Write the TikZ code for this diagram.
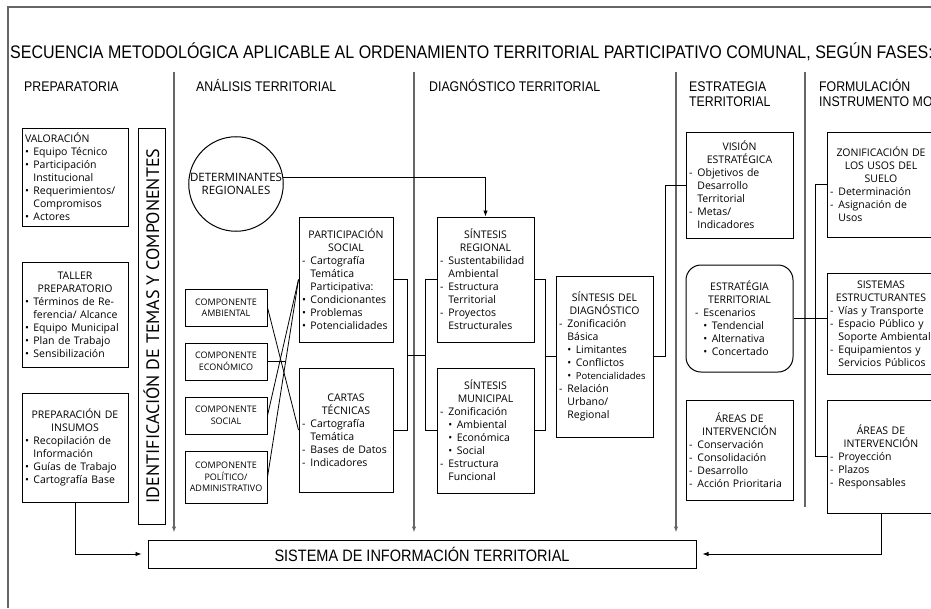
\documentclass[tikz,border=0pt]{standalone}
\usepackage{fontspec}
\setmainfont{Open Sans}
\newfontfamily\condfont[FakeStretch=0.88]{Liberation Sans}
\newfontfamily\identfont{PT Sans}
\usetikzlibrary{arrows.meta}
\setlength\parindent{0pt}

\newcommand\itembul{\makebox[0.8em][l]{\textbullet}}
\newcommand\itemdash{\makebox[0.8em][l]{-}}
\newcommand\itemind{\hspace*{0.8em}}
\newcommand\boxhead[1]{{\centering #1\par}}

\tikzset{
  frame/.style={draw=black!60, line width=1.2pt},
  divline/.style={draw=black!60, line width=1.3pt},
  link/.style={draw=black, line width=0.8pt},
  arr/.style={-{Latex[length=6pt,width=4.5pt]}},
  bx/.style={draw, line width=1pt, inner xsep=3pt, inner ysep=0pt, align=left,
    font=\fontsize{10.5}{13}\selectfont},
  compbox/.style={draw, line width=1pt, inner sep=1pt, align=center,
    minimum width=82pt, font=\fontsize{9}{11.5}\selectfont},
  phase/.style={anchor=base west, inner sep=0pt, align=left,
    font=\condfont\fontsize{14}{15.5}\selectfont},
}

\begin{document}
\begin{tikzpicture}[x=1pt,y=-1pt]
            \useasboundingbox (0,0) rectangle (931,608);%
            \clip (0,0) rectangle (931,608);%

            % Drawing outer frame
            \draw [frame] (8,608) -- (8,7) -- (945,7);%

            % Title and phase headings
            \node [anchor=base west, inner sep=0pt, font=\condfont\fontsize{18.2}{20}\selectfont] (ttl) at (10,58) {SECUENCIA METODOLÓGICA APLICABLE AL ORDENAMIENTO TERRITORIAL PARTICIPATIVO COMUNAL, SEGÚN FASES:};%
            \node [phase] (hprep) at (24,91) {PREPARATORIA};%
            \node [phase] (hanal) at (196,91) {ANÁLISIS TERRITORIAL};%
            \node [phase] (hdiag) at (429,91) {DIAGNÓSTICO TERRITORIAL};%
            \node [phase] (hestr) at (689,106.5) {ESTRATEGIA\\TERRITORIAL};%
            \node [phase] (hform) at (819,106.5) {FORMULACIÓN\\INSTRUMENTO MOT};%

            % Drawing box SISTEMA DE INFORMACION
            \node [draw, line width=1pt, minimum width=548pt, minimum height=28pt, font=\condfont\fontsize{16.5}{18}\selectfont] (sit) at (422,554) {SISTEMA DE INFORMACIÓN TERRITORIAL};%

            % Drawing phase dividers
            \coordinate (dvA) at (174,72);%
            \coordinate (dvB) at (414,72);%
            \coordinate (dvC) at (676,72);%
            \coordinate (dvD) at (805,72);%
            \coordinate (dvDend) at (805,507);%
            \draw [divline, arr, shorten >=7pt] (dvA) -- (dvA |- sit.north);%
            \draw [divline, arr, shorten >=7pt] (dvB) -- (dvB |- sit.north);%
            \draw [divline, arr, shorten >=7pt] (dvC) -- (dvC |- sit.north);%
            \draw [divline] (dvD) -- (dvDend);%

            % Drawing boxes PREPARATORIA
            \node [bx, text width=100pt, minimum height=98pt] (valor) at (75,177) {VALORACIÓN\\
              \itembul Equipo Técnico\\
              \itembul Participación\\
              \itemind Institucional\\
              \itembul Requerimientos/\\
              \itemind Compromisos\\
              \itembul Actores};%
            \node [bx, text width=100pt, minimum height=105pt] (taller) at (75,314.5) {\boxhead{TALLER\\PREPARATORIO}
              \itembul Términos de Re-\\
              \itemind ferencia/ Alcance\\
              \itembul Equipo Municipal\\
              \itembul Plan de Trabajo\\
              \itembul Sensibilización};%
            \node [bx, text width=100pt, minimum height=109pt] (insumos) at (75,447.5) {\boxhead{PREPARACIÓN DE\\INSUMOS}
              \itembul Recopilación de\\
              \itemind Información\\
              \itembul Guías de Trabajo\\
              \itembul Cartografía Base};%
            \node [draw, line width=1pt, rotate=90, minimum width=396pt, minimum height=27pt, inner sep=0pt, font=\identfont\fontsize{18}{20}\selectfont] (ident) at (151.5,326) {IDENTIFICACIÓN DE TEMAS Y COMPONENTES};%

            % Drawing boxes ANALISIS TERRITORIAL
            \node [draw, circle, line width=1pt, minimum size=94pt, inner sep=0pt, align=center, font=\fontsize{11.5}{13.5}\selectfont] (determ) at (236,184) {DETERMINANTES\\REGIONALES};%
            \node [compbox, minimum height=37pt] (camb) at (226,307.5) {COMPONENTE\\AMBIENTAL};%
            \node [compbox, minimum height=37pt] (ceco) at (226,361.5) {COMPONENTE\\ECONÓMICO};%
            \node [compbox, minimum height=37pt] (csoc) at (226,415.5) {COMPONENTE\\SOCIAL};%
            \node [compbox, minimum height=52pt] (cpol) at (226,477) {COMPONENTE\\POLÍTICO/\\ADMINISTRATIVO};%
            \node [bx, text width=88pt, minimum height=125pt] (partic) at (346,279.5) {\boxhead{PARTICIPACIÓN\\SOCIAL}
              \itemdash Cartografía\\
              \itemind Temática\\
              \itemind Participativa:\\
              \itembul Condicionantes\\
              \itembul Problemas\\
              \itembul Potencialidades};%
            \node [bx, text width=88pt, minimum height=124pt] (cartas) at (346,430) {\boxhead{CARTAS\\TÉCNICAS}
              \itemdash Cartografía\\
              \itemind Temática\\
              \itemdash Bases de Datos\\
              \itemdash Indicadores};%

            % Drawing boxes DIAGNOSTICO TERRITORIAL
            \node [bx, text width=91pt, minimum height=125pt] (sreg) at (485.5,279.5) {\boxhead{SÍNTESIS\\REGIONAL}
              \itemdash Sustentabilidad\\
              \itemind Ambiental\\
              \itemdash Estructura\\
              \itemind Territorial\\
              \itemdash Proyectos\\
              \itemind Estructurales};%
            \node [bx, text width=91pt, minimum height=125pt] (smun) at (485.5,430.5) {\boxhead{SÍNTESIS\\MUNICIPAL}
              \itemdash Zonificación\\
              \itemind\itembul Ambiental\\
              \itemind\itembul Económica\\
              \itemind\itembul Social\\
              \itemdash Estructura\\
              \itemind Funcional};%
            \node [bx, text width=91pt, minimum height=161pt] (sdiag) at (604.5,356.5) {\boxhead{SÍNTESIS DEL\\DIAGNÓSTICO}
              \itemdash Zonificación\\
              \itemind Básica\\
              \itemind\itembul Limitantes\\
              \itemind\itembul Conflictos\\
              \itemind\itembul {\fontsize{9.5}{13}\selectfont Potencialidades}\\
              \itemdash Relación\\
              \itemind Urbano/\\
              \itemind Regional};%

            % Drawing boxes ESTRATEGIA TERRITORIAL
            \node [bx, text width=101pt, minimum height=106pt] (vision) at (739.5,185) {\boxhead{VISIÓN\\ESTRATÉGICA}
              \itemdash Objetivos de\\
              \itemind Desarrollo\\
              \itemind Territorial\\
              \itemdash Metas/\\
              \itemind Indicadores};%
            \node [bx, rounded corners=15pt, inner xsep=9pt, text width=89pt, minimum height=107pt] (estr) at (739.5,318.5) {\boxhead{ESTRATÉGIA\\TERRITORIAL}
              \itemdash Escenarios\\
              \itemind\itembul Tendencial\\
              \itemind\itembul Alternativa\\
              \itemind\itembul Concertado};%
            \node [bx, text width=101pt, minimum height=100pt] (areasA) at (739.5,450) {\boxhead{ÁREAS DE\\INTERVENCIÓN}
              \itemdash Conservación\\
              \itemdash Consolidación\\
              \itemdash Desarrollo\\
              \itemdash Acción Prioritaria};%

            % Drawing boxes FORMULACION
            \node [bx, text width=102pt, minimum height=105pt] (zonif) at (881,184.5) {\boxhead{ZONIFICACIÓN DE\\LOS USOS DEL\\SUELO}
              \itemdash Determinación\\
              \itemdash Asignación de\\
              \itemind Usos};%
            \node [bx, text width=102pt, minimum height=101pt] (sist) at (881,323.5) {\boxhead{SISTEMAS\\ESTRUCTURANTES}
              \itemdash Vías y Transporte\\
              \itemdash Espacio Público y\\
              \itemind Soporte Ambiental\\
              \itemdash Equipamientos y\\
              \itemind Servicios Públicos};%
            \node [bx, text width=102pt, minimum height=113pt] (areasB) at (881,456.5) {\boxhead{ÁREAS DE\\INTERVENCIÓN}
              \itemdash Proyección\\
              \itemdash Plazos\\
              \itemdash Responsables};%

            % Drawing connectors
            \draw [link, arr, shorten >=6pt] (insumos.south) |- (sit.west);%
            \draw [link, arr, shorten >=6pt] (areasB.south) |- (sit.east);%
            \draw [link, arr] (determ.8) -| (sreg.north);%
            \draw [link] (camb.east) -- (cartas.west);%
            \draw [link] (ceco.east) -- ++(17,0);%
            \draw [link] (csoc.east) -- (partic.west);%
            \draw [link] (cpol.east) -- (partic.west);%
            \draw [link] (partic.east) -- ++(14,0) |- (cartas.east);%
            \coordinate (brkL) at (407,355);%
            \coordinate (brkR) at (426,355);%
            \draw [link] (brkL) -- (brkR);%
            \draw [link] (sreg.west) -- ++(-11,0) |- (smun.west);%
            \draw [link] (sreg.east) -- ++(11,0) |- (smun.east);%
            \draw [link] (sdiag.west) -- ++(-11,0);%
            \draw [link] (sdiag.east) -- ++(12,0) |- (vision.west);%
            \draw [link] (estr.east) -- (estr.east -| sist.west);%
            \draw [link] (zonif.west) -- ++(-11,0) |- (areasB.west);%
        \end{tikzpicture}
\end{document}
